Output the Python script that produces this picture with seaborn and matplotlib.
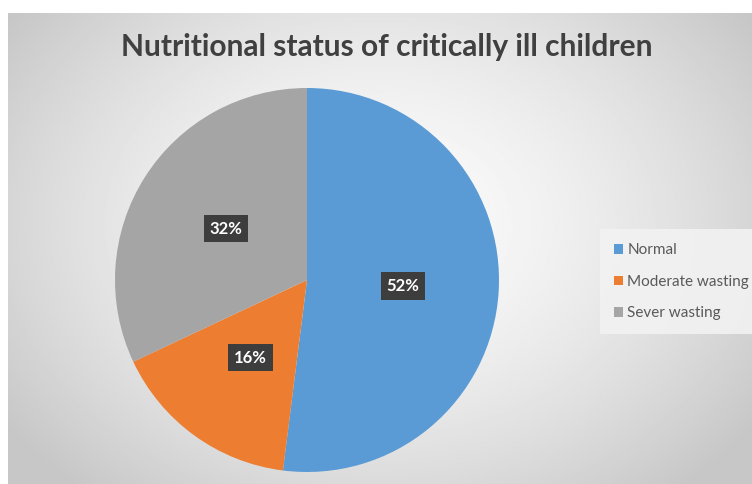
import numpy as np
import matplotlib
matplotlib.use('Agg')
from matplotlib import pyplot as plt
from matplotlib.patches import Patch
import seaborn as sns

categories = ['Normal', 'Moderate wasting', 'Sever wasting']
shares = [52, 16, 32]
colors = ['#5B9BD5', '#ED7D31', '#A5A5A5']
title = 'Nutritional status of critically ill children'

sns.set_theme(style='white')
plt.rcParams['font.family'] = ['Lato', 'DejaVu Sans']

W, H = 752, 484
fig = plt.figure(figsize=(W / 100, H / 100), dpi=100)
fig.patch.set_facecolor('white')

# radial grey gradient behind the chart area
bg = fig.add_axes([8 / W, 0, 1 - 8 / W, 1 - 13 / H])
yy, xx = np.mgrid[0:1:300j, 0:1:400j]
d = np.sqrt(((xx - 0.5) / 0.75) ** 2 + ((yy - 0.45) / 0.9) ** 2)
shade = np.clip(0.985 - 0.28 * d ** 1.6, 0.78, 1)
bg.imshow(shade, cmap='gray', vmin=0, vmax=1, aspect='auto', extent=[0, 1, 0, 1])
bg.set_axis_off()

fig.text(387 / W, 1 - 47 / H, title, ha='center', va='center',
         fontsize=21.5, fontweight='bold', color='#404040')

r = 192
cx, cy = 307, 280
ax = fig.add_axes([(cx - r) / W, (H - cy - r) / H, 2 * r / W, 2 * r / H])
wedges, _, autotexts = ax.pie(shares, colors=colors, startangle=90, counterclock=False,
                              autopct='%d%%', pctdistance=0.5,
                              wedgeprops=dict(linewidth=0))
ax.set_xlim(-1, 1)
ax.set_ylim(-1, 1)
ax.set_aspect('equal')
ax.set_axis_off()
for t in autotexts:
    t.set_color('white')
    t.set_fontweight('bold')
    t.set_fontsize(12)
    t.set_bbox(dict(boxstyle='square,pad=0.35', fc='#3d3d3d', ec='none'))

handles = [Patch(facecolor=c, edgecolor='none') for c in colors]
leg = fig.legend(handles, categories, loc='upper left',
                 bbox_to_anchor=(605 / W, 1 - 234 / H), frameon=True,
                 fontsize=11, handlelength=0.6, handleheight=0.6,
                 handletextpad=0.25, labelspacing=1.15, borderpad=0.6,
                 borderaxespad=0)
leg.get_frame().set_facecolor('#f2f2f2')
leg.get_frame().set_edgecolor('none')
leg.get_frame().set_alpha(0.9)
leg.get_frame().set_boxstyle('square')
for t in leg.get_texts():
    t.set_color('#595959')

fig.savefig('out.png', dpi=100)
